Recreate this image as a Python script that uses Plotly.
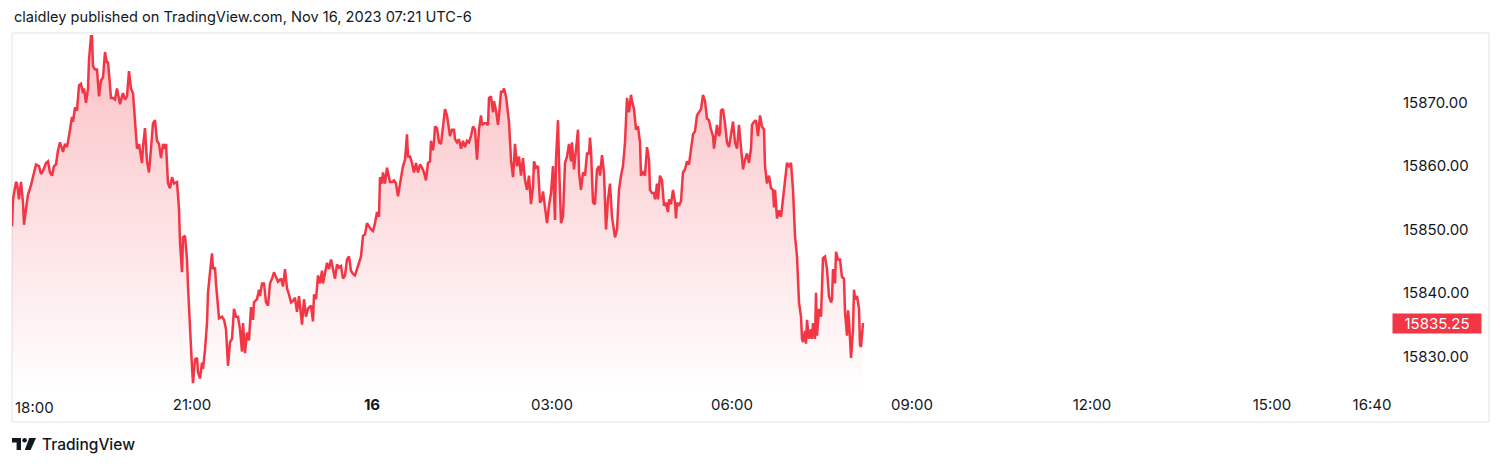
import pandas as pd
import plotly.graph_objects as go

# ---------------- data (minutes after 18:00 on Nov 15, price) ----------------
minutes = [
    0, 1, 4, 5, 7, 9, 11, 12, 14, 16,
    19, 21, 24, 27, 29, 31, 34, 36, 38, 40,
    42, 44, 46, 48, 50, 51, 53, 55, 57, 60,
    61, 63, 65, 67, 69, 71, 72, 74, 76, 77,
    79, 80, 81, 83, 85, 87, 89, 91, 93, 95,
    96, 99, 101, 103, 105, 107, 108, 110, 111, 113,
    115, 117, 119, 121, 123, 125, 127, 130, 131, 133,
    135, 137, 139, 141, 143, 145, 147,
    149, 151, 153, 154, 156, 158, 160, 162, 165, 167,
    168, 170, 171, 173, 175, 176, 178, 180, 181, 183,
    185, 186, 188, 190, 191, 193, 195, 196, 198, 200,
    201, 203, 204, 206, 207, 210, 212, 214, 216, 218,
    220, 222, 224, 226, 228, 230, 231, 233, 235, 237,
    239, 241, 242, 245, 247, 248, 250, 252, 254, 256,
    258, 260, 262, 264, 266, 269, 271, 273, 275, 277,
    279, 281, 283, 285, 287,
    288, 290, 292, 294, 296, 299, 301, 302, 304, 306,
    308, 310, 311, 313, 315, 317, 319, 321, 323, 325,
    327, 329, 331, 333, 335, 337, 339, 341, 343, 345,
    347, 349, 351, 353, 355, 357, 359, 361, 363, 365,
    367, 368, 370, 371, 373, 375, 376, 378, 380, 382,
    384, 386, 387, 389, 391, 393, 395, 396, 398, 400,
    402, 404, 406, 408, 410, 412, 414, 416, 418, 419,
    421, 422, 423, 425, 427,
    429, 431, 433, 435, 436, 438, 440, 442, 443, 445,
    447, 449, 451, 453, 455, 457, 459, 461, 463, 465,
    467, 469, 470, 472, 474, 476, 477, 479, 481, 482,
    484, 486, 487, 489, 491, 492, 494, 496, 497, 499,
    501, 502, 503, 505, 507, 509, 511, 513, 515, 517,
    519, 521, 522, 524, 526, 528, 530, 531, 533, 535,
    537, 539, 541, 543, 544, 546, 547, 549, 551, 552,
    553, 555, 557, 559, 560, 562, 564, 566, 567,
    569, 571, 573, 575, 577, 578, 579, 581, 583, 585,
    587, 588, 590, 592, 594, 596, 598, 600, 602, 603,
    605, 607, 609, 611, 613, 614, 615, 617, 619, 620,
    622, 624, 626, 628, 629, 631, 633, 635, 637, 638,
    640, 642, 643, 645, 646, 648, 650, 652, 654, 656,
    657, 659, 661, 663, 664, 665, 667, 669, 671, 673,
    675, 677, 679, 681, 683, 685, 687, 689, 691, 693,
    695, 697, 699, 701, 702, 704, 705, 707,
    708, 709, 711, 713, 715, 717, 719, 721, 723, 725,
    727, 729, 731, 733, 735, 737, 739, 740, 742, 744,
    746, 748, 750, 752, 753, 755, 757, 759, 761, 762,
    763, 765, 767, 769, 771, 773, 775, 777, 779, 781,
    782, 783, 785, 786, 787, 789, 790, 791, 793, 794,
    795, 797, 799, 800, 801, 803, 804, 805, 807, 809,
    810, 811, 813, 815, 817, 819, 820, 821, 823, 824,
    826, 828, 830, 832, 833, 835, 836, 837, 839, 841,
    842, 843, 845, 847, 848, 849, 851,
]

prices = [
    15850.5, 15854.75, 15857.5, 15857.25, 15854.75, 15857.5, 15854.25, 15850.75, 15853.25, 15855.5,
    15857, 15858.25, 15860.25, 15860, 15858.75, 15859.25, 15860.5, 15860.75, 15859, 15858.5,
    15860, 15860.25, 15862.5, 15863.75, 15862.75, 15862.25, 15863.5, 15863, 15864.75, 15867.75,
    15867, 15869.25, 15868.75, 15872.75, 15873, 15871.5, 15872.25, 15870, 15872.25, 15876.75,
    15880.5, 15880.5, 15875.75, 15875.25, 15875.25, 15871, 15873.5, 15874, 15878, 15876.25,
    15876.5, 15870.75, 15870.75, 15870.5, 15872.25, 15870.5, 15869.75, 15871, 15871.5, 15870.5,
    15871, 15875, 15872.25, 15871.5, 15867.25, 15862.75, 15863.5, 15860.5, 15863, 15866,
    15860.75, 15859, 15862.75, 15866.75, 15867.25, 15864, 15863.5,
    15861.25, 15863.5, 15862.75, 15863.5, 15857.25, 15856.5, 15858.25, 15857.25, 15857.5, 15853.25,
    15848, 15843.25, 15848.75, 15849, 15845.25, 15841, 15833.25, 15828.25, 15825.75, 15829.5,
    15829.75, 15827.5, 15826.5, 15829, 15828, 15831, 15835.25, 15840, 15843.25, 15846.25,
    15843.75, 15844, 15841.5, 15838, 15836, 15836.25, 15835.75, 15834.25, 15828.5, 15832.25,
    15832.75, 15837.5, 15836.25, 15836.25, 15834.25, 15830.75, 15835.25, 15830.5, 15833.75, 15832.5,
    15837.75, 15835.75, 15838.5, 15839, 15840.5, 15839.5, 15841.5, 15841.5, 15838.5, 15838,
    15841.5, 15842.25, 15843.25, 15842.5, 15841.75, 15842.25, 15841, 15843.75, 15840.75, 15839.75,
    15838.5, 15838.75, 15839.25, 15837, 15839.5,
    15838, 15835, 15839, 15836.25, 15837.5, 15838, 15835.5, 15839.75, 15839, 15842.75,
    15841.5, 15843.5, 15841.5, 15843.5, 15844.75, 15843.75, 15845.25, 15843.75, 15842.25, 15844.5,
    15844, 15844.25, 15842.25, 15842.75, 15845.25, 15845.75, 15843.5, 15843, 15842.75, 15843.75,
    15844.75, 15845.75, 15849, 15849.25, 15851, 15850.5, 15850, 15849.75, 15851, 15852.75,
    15852, 15858.25, 15857.25, 15859, 15857.25, 15859.75, 15859, 15857.5, 15857.5, 15857.75,
    15857.25, 15855.25, 15856.25, 15858.5, 15860, 15861, 15865, 15861.5, 15861.5, 15860.5,
    15859, 15860.5, 15859, 15860.25, 15859.75, 15859, 15857.75, 15860.5, 15860.75, 15864,
    15862.5, 15863.75, 15866.25, 15866, 15863.75,
    15863.5, 15866.75, 15869, 15868, 15866.75, 15864.75, 15865.75, 15865.75, 15864.25, 15863.75,
    15864.25, 15862.75, 15864, 15863, 15864, 15863.75, 15864.75, 15866.25, 15865.75, 15861,
    15865.75, 15868, 15866.5, 15866.75, 15866.75, 15866.5, 15870.75, 15871, 15868.5, 15870.25,
    15868.75, 15866.5, 15868, 15871.75, 15871.75, 15872.25, 15871, 15867.5, 15867, 15861,
    15858.25, 15860.5, 15863.5, 15860, 15861.5, 15858.5, 15861.25, 15857.75, 15856.25, 15858.5,
    15854, 15856.75, 15860.75, 15859.75, 15860, 15854.25, 15854.75, 15856, 15853, 15851,
    15853.75, 15855.75, 15860, 15851.5, 15861, 15867.25, 15860.5, 15851, 15852, 15856.75,
    15860.5, 15861.5, 15863.5, 15860.75, 15863.75, 15859.5, 15863, 15865.75, 15859,
    15856.25, 15859, 15858.5, 15862, 15862, 15864.5, 15862.5, 15854.25, 15854, 15859.5,
    15860, 15858.5, 15861.75, 15859, 15850, 15854.75, 15857.25, 15852, 15849.5, 15848.75,
    15850, 15856.25, 15858.5, 15860, 15863.75, 15867.25, 15870.75, 15868.5, 15871.25, 15870.25,
    15869, 15865.75, 15866.25, 15863.75, 15858.5, 15859, 15858.5, 15863, 15861, 15856.25,
    15855.75, 15855.75, 15854.75, 15857.25, 15854.75, 15858.5, 15857.75, 15853.75, 15854.25, 15852.75,
    15854.75, 15854, 15856.25, 15854.25, 15851.75, 15854.25, 15853.75, 15854.5, 15859, 15859.5,
    15860.75, 15860.25, 15862.25, 15865, 15865.5, 15868, 15868.5, 15869, 15871.25, 15870.25,
    15867.5, 15867.25, 15865.75, 15864.75, 15862.75, 15865.75, 15866.5, 15864.75,
    15865.25, 15868.75, 15869, 15866.75, 15863.75, 15863, 15864.75, 15867, 15863.75, 15862.75,
    15866.5, 15862.5, 15859.5, 15861, 15862, 15860.5, 15862.75, 15866.5, 15867, 15867.25,
    15864.75, 15868, 15866.25, 15865.75, 15860, 15857.25, 15858.5, 15856.5, 15856.25, 15853.5,
    15856.25, 15851.75, 15853, 15852, 15854.75, 15857.75, 15860.5, 15860, 15860.5, 15856.25,
    15852, 15849, 15845.75, 15842.75, 15838.5, 15836.25, 15832.75, 15832.25, 15834, 15832,
    15835.75, 15832.75, 15834.25, 15832.75, 15835.25, 15832.75, 15840, 15833.25, 15837.5, 15836.25,
    15840.5, 15845.5, 15845.75, 15843.75, 15839.5, 15838.5, 15839, 15843.75, 15841.5, 15846.5,
    15845.25, 15845.25, 15842.5, 15842.25, 15837, 15833.25, 15837.25, 15835.75, 15829.75, 15834.25,
    15840.5, 15839, 15839.5, 15837.5, 15831.75, 15831.5, 15835.25,
]

session_start = "2023-11-15 18:00"
time_tick_values = ["2023-11-15 21:00", "2023-11-16 00:00", "2023-11-16 03:00",
                    "2023-11-16 06:00", "2023-11-16 09:00", "2023-11-16 12:00",
                    "2023-11-16 15:00", "2023-11-16 16:40"]
time_tick_labels = ["21:00", "<b>16</b>", "03:00", "06:00", "09:00", "12:00", "15:00", "16:40"]
first_time_label = "18:00"
price_ticks = [15830, 15840, 15850, 15860, 15870]

assert len(minutes) == len(prices)

base = pd.Timestamp(session_start)
times = [base + pd.Timedelta(minutes=m) for m in minutes]
last_price = prices[-1]

# ---------------- geometry ----------------
W, H = 1500, 466
PL, PR, PT, PB = 12, 1390, 33, 394          # plot area in px
x_end = base + pd.Timedelta(minutes=PR - PL)
y_lo, y_hi = 15824.05, 15881.0

RED = "#F23645"
TXT = "#131722"
FONT = "Inter, Roboto, Arial, sans-serif"


def px_x(px):
    return (px - PL) / (PR - PL)


def px_y(py):
    return (PB - py) / (PB - PT)


fig = go.Figure()
fig.add_trace(go.Scatter(
    x=times, y=prices, mode="lines",
    line=dict(color=RED, width=2.5),
    fill="tozeroy",
    fillgradient=dict(type="vertical",
                      colorscale=[[0, "rgba(242,54,69,0.0)"], [1, "rgba(242,54,69,0.32)"]],
                      start=y_lo, stop=y_hi),
    hoverinfo="skip", showlegend=False,
))

shapes = [
    dict(type="rect", xref="paper", yref="paper",
         x0=px_x(12), x1=px_x(1489), y0=px_y(422), y1=px_y(33),
         line=dict(color="#e0e3eb", width=1), layer="below"),
]

# TradingView logo (decoration)
def logo_path(points, ox=12, oy=438):
    segs = []
    for i, (a, b) in enumerate(points):
        segs.append(("M" if i == 0 else "L") + f"{px_x(ox + a):.6f},{px_y(oy + b):.6f}")
    return " ".join(segs) + " Z"

shapes.append(dict(type="path", xref="paper", yref="paper",
                   path=logo_path([(0, 0), (9, 0), (9, 12), (4.6, 12), (4.6, 4.6), (0, 4.6)]),
                   fillcolor=TXT, line=dict(width=0)))
shapes.append(dict(type="circle", xref="paper", yref="paper",
                   x0=px_x(22.3), x1=px_x(26.9), y0=px_y(438 + 4.6), y1=px_y(438),
                   fillcolor=TXT, line=dict(width=0)))
shapes.append(dict(type="path", xref="paper", yref="paper",
                   path=logo_path([(17.2, 0), (24, 0), (18.6, 12), (12.8, 12)]),
                   fillcolor=TXT, line=dict(width=0)))

annotations = [
    dict(text="claidley published on TradingView.com, Nov 16, 2023 07:21 UTC-6",
         xref="paper", yref="paper", x=0, y=1, xanchor="left", yanchor="middle",
         yshift=PT - 17, showarrow=False, font=dict(family=FONT, size=14.6, color=TXT)),
    dict(text="TradingView", xref="paper", yref="paper", x=px_x(40), y=0,
         xanchor="left", yanchor="middle", yshift=PB - 444, showarrow=False,
         font=dict(family=FONT, size=15.5, color=TXT, weight=500)),
    dict(text=first_time_label, xref="x", yref="paper", x=base, y=0,
         xanchor="left", yanchor="middle", xshift=1, yshift=PB - 407, showarrow=False,
         font=dict(family=FONT, size=15, color=TXT)),
    dict(text=f"{last_price:.2f}", xref="paper", yref="y", x=1, y=last_price,
         xanchor="left", yanchor="middle", xshift=2, showarrow=False,
         bgcolor=RED, width=85, height=16, borderpad=1.5, align="center",
         font=dict(family=FONT, size=15, color="white")),
]

fig.update_layout(
    width=W, height=H, autosize=False,
    margin=dict(l=PL, r=W - PR, t=PT, b=H - PB),
    paper_bgcolor="white", plot_bgcolor="white",
    font=dict(family=FONT, size=15, color=TXT),
    xaxis=dict(type="date", range=[base, x_end], showgrid=False, zeroline=False,
               showline=False, ticks="", tickvals=time_tick_values, ticktext=time_tick_labels,
               tickfont=dict(family=FONT, size=15, color=TXT), fixedrange=True),
    yaxis=dict(side="right", range=[y_lo, y_hi], showgrid=False, zeroline=False,
               showline=False, ticks="", tickvals=price_ticks, tickformat=".2f",
               ticklabelstandoff=12,
               tickfont=dict(family=FONT, size=15, color=TXT), fixedrange=True),
    shapes=shapes, annotations=annotations,
    showlegend=False,
)

fig.write_html("out.html", config={"displayModeBar": False},
               post_script="document.body.style.margin='0';")
